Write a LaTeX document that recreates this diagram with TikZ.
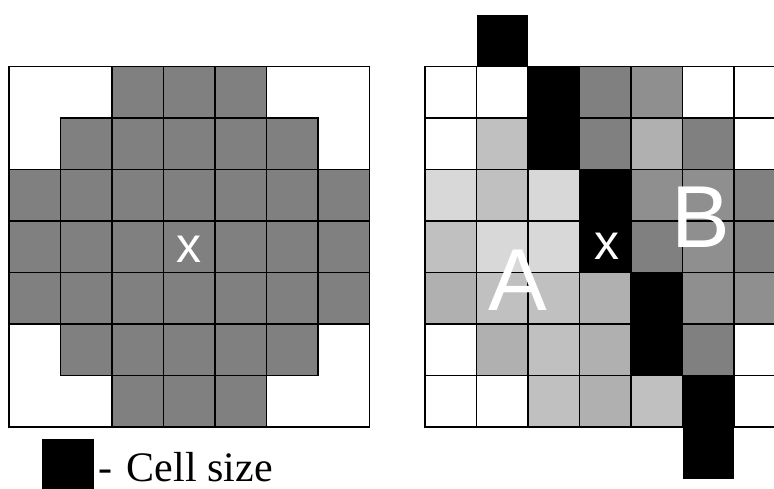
\documentclass[tikz,border=0pt]{standalone}
\usepackage{fontspec}
\setmainfont{Liberation Serif}
\newfontfamily\arialfont{Liberation Sans}
\definecolor{cW}{RGB}{255,255,255}
\definecolor{cK}{RGB}{0,0,0}
\definecolor{cD}{RGB}{128,128,128}
\definecolor{cM}{RGB}{143,143,143}
\definecolor{cLa}{RGB}{176,176,176}
\definecolor{cLb}{RGB}{192,192,192}
\definecolor{cLc}{RGB}{216,216,216}
\tikzset{
  gridline/.style={draw=black, line width=1.4pt},
  celltext/.style={text=white, inner sep=0pt, font=\arialfont\fontsize{50}{50}\selectfont},
  bigletter/.style={text=white, inner sep=0pt, font=\arialfont\fontsize{88}{88}\selectfont},
}
\begin{document}
\begin{tikzpicture}[x=1pt, y=-1pt]
\useasboundingbox (0,0) rectangle (774,489);
\def\s{51.5}
% ---------- left grid ----------
\def\lx{9}\def\ly{66.5}
\draw[gridline] (\lx,\ly) rectangle ({\lx+7*\s},{\ly+7*\s});
\foreach \r/\a/\b in {0/2/4,1/1/5,2/0/6,3/0/6,4/0/6,5/1/5,6/2/4}{
  \foreach \c in {\a,...,\b}{
    \filldraw[gridline, fill=cD] ({\lx+\c*\s},{\ly+\r*\s}) rectangle ({\lx+(\c+1)*\s},{\ly+(\r+1)*\s});
  }
}
\node[celltext] (lx) at (189,249) {x};
% ---------- right grid ----------
\def\rx{425}\def\ry{66.5}
\begin{scope}
\clip (0,0) rectangle (774,489);
\foreach \rowlist [count=\r from 0] in {
  {cW,cW,cK,cD,cM,cW,cW},
  {cW,cLb,cK,cD,cLa,cD,cW},
  {cLc,cLb,cLc,cK,cM,cM,cD},
  {cLb,cLc,cLc,cK,cD,cM,cD},
  {cLa,cLb,cLb,cLa,cK,cM,cM},
  {cW,cLa,cLb,cLa,cK,cD,cW},
  {cW,cW,cLb,cLa,cLb,cK,cW}}{
  \foreach \cc [count=\c from 0] in \rowlist {
    \filldraw[gridline, fill=\cc] ({\rx+\c*\s},{\ry+\r*\s}) rectangle ({\rx+(\c+1)*\s},{\ry+(\r+1)*\s});
  }
}
\fill[black] ({\rx+1*\s},{\ry-\s}) rectangle ({\rx+2*\s},{\ry});
\fill[black] ({\rx+5*\s},{\ry+7*\s}) rectangle ({\rx+6*\s},{\ry+8*\s});
\end{scope}
\node[celltext] (rx) at (607,246.5) {x};
\node[bigletter] (A) at (518,280.5) {A};
\node[bigletter] (B) at (700.5,217) {B};
% ---------- legend ----------
\fill[black] (42,439) rectangle (94,490);
\node[anchor=base west, inner sep=0pt, font=\fontsize{42}{42}\selectfont] (legend) at (98,481) {-\hspace{0.35em}Cell size};
\end{tikzpicture}
\end{document}
